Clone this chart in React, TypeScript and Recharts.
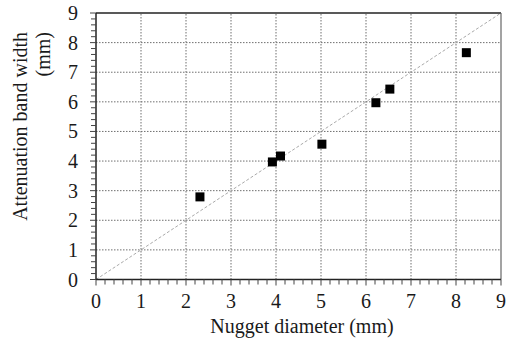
import {
  Customized,
  ReferenceLine,
  Scatter,
  ScatterChart,
  XAxis,
  YAxis,
} from 'recharts';

const nuggetDiameter = [2.31, 3.92, 4.1, 5.02, 6.22, 6.53, 8.23];
const bandWidth = [2.79, 3.97, 4.17, 4.57, 5.97, 6.43, 7.66];
const majorTicks = [0, 1, 2, 3, 4, 5, 6, 7, 8, 9];
const minorTicks = majorTicks
  .slice(0, -1)
  .flatMap((t) => [t, t + 0.2, t + 0.4, t + 0.6, t + 0.8])
  .concat([9]);
const gridValues = [1, 2, 3, 4, 5, 6, 7, 8];

const data = nuggetDiameter.map((x, i) => ({ x, y: bandWidth[i] }));

const FONT = "'Liberation Serif', 'DejaVu Serif', 'Times New Roman', serif";
const INK = '#1a1a1a';
const textStyle = { fontFamily: FONT, fontSize: 20 };

function isMajor(v: number) {
  return Math.abs(v - Math.round(v)) < 1e-6;
}

function XTick({ x, y, payload }: any) {
  const major = isMajor(payload.value);
  return (
    <g>
      <line x1={x} x2={x} y1={y} y2={y + (major ? 6 : 5)} stroke="#444" />
      {major && (
        <text x={x} y={y + 28} textAnchor="middle" style={textStyle} fill={INK}>
          {Math.round(payload.value)}
        </text>
      )}
    </g>
  );
}

function YTick({ x, y, payload }: any) {
  const major = isMajor(payload.value);
  return (
    <g>
      <line x1={x} x2={x - (major ? 6 : 5)} y1={y} y2={y} stroke="#444" />
      {major && (
        <text x={x - 18} y={y + 7} textAnchor="end" style={textStyle} fill={INK}>
          {Math.round(payload.value)}
        </text>
      )}
    </g>
  );
}

function Square({ cx, cy }: any) {
  return <rect x={cx - 4.5} y={cy - 4.5} width={9} height={9} fill="#000" />;
}

function AxisTitles() {
  return (
    <g fill={INK}>
      <text x={302} y={333} textAnchor="middle" style={textStyle}>
        Nugget diameter (mm)
      </text>
      <text x={27} y={32} textAnchor="end" transform="rotate(-90 27 32)" style={textStyle}>
        Attenuation band width
      </text>
      <text x={50} y={32} textAnchor="end" transform="rotate(-90 50 32)" style={textStyle}>
        (mm)
      </text>
    </g>
  );
}

export default function App() {
  return (
    <div style={{ position: 'fixed', left: 0, top: 0, background: '#fff' }}>
      <ScatterChart
        width={507}
        height={345}
        margin={{ top: 13, right: 6, bottom: 25, left: 0 }}
      >
        {gridValues.map((v) => (
          <ReferenceLine key={`gx${v}`} x={v} stroke="#6f6f6f" strokeDasharray="1.5 1.5" />
        ))}
        {gridValues.map((v) => (
          <ReferenceLine key={`gy${v}`} y={v} stroke="#6f6f6f" strokeDasharray="1.5 1.5" />
        ))}
        <ReferenceLine
          segment={[
            { x: 0, y: 0 },
            { x: 9, y: 9 },
          ]}
          stroke="#aaaaaa"
          strokeDasharray="3 2"
        />
        <ReferenceLine y={9} stroke="#222" strokeWidth={1.5} />
        <ReferenceLine x={9} stroke="#666" strokeWidth={1.2} />
        <XAxis
          type="number"
          dataKey="x"
          domain={[0, 9]}
          ticks={minorTicks}
          interval={0}
          tickSize={0}
          tickMargin={0}
          tickLine={false}
          tick={<XTick />}
          axisLine={{ stroke: '#222', strokeWidth: 1.5 }}
          height={40.5}
        />
        <YAxis
          type="number"
          dataKey="y"
          domain={[0, 9]}
          ticks={minorTicks}
          interval={0}
          tickSize={0}
          tickMargin={0}
          tickLine={false}
          tick={<YTick />}
          axisLine={{ stroke: '#222', strokeWidth: 1.5 }}
          width={96}
        />
        <Scatter data={data} shape={<Square />} isAnimationActive={false} />
        <Customized component={<AxisTitles />} />
      </ScatterChart>
    </div>
  );
}
